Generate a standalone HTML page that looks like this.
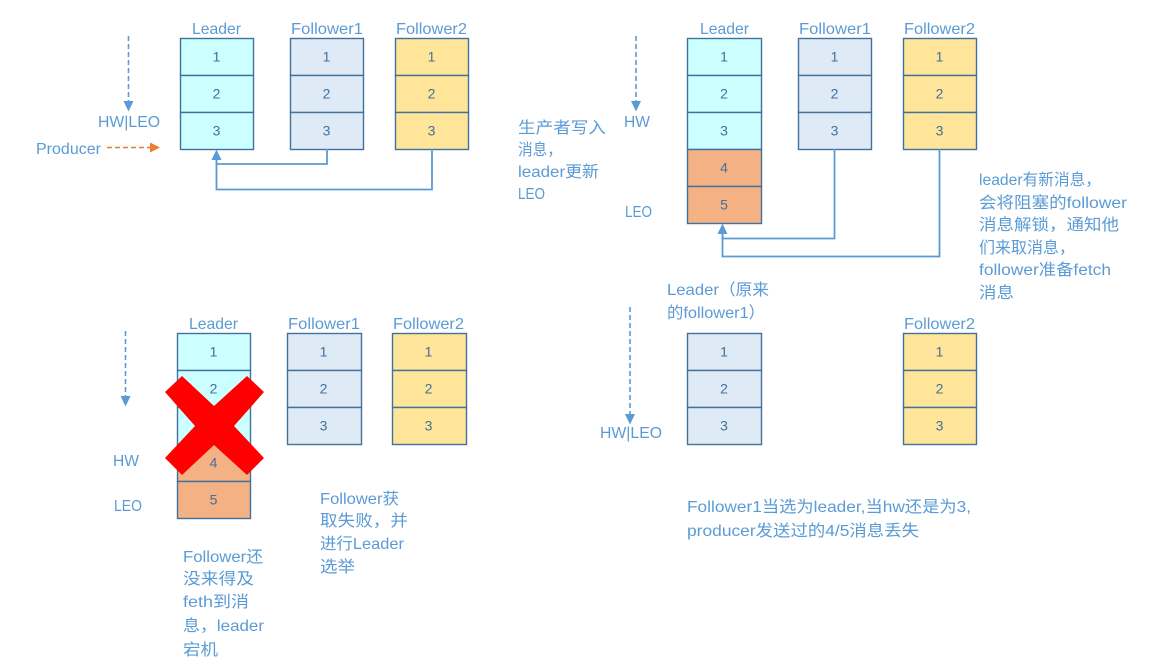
<!DOCTYPE html>
<html>
<head>
<meta charset="utf-8">
<style>
html,body{margin:0;padding:0;background:#fff;width:1164px;height:667px;overflow:hidden}
svg{display:block}
text{font-family:"Liberation Sans","Noto Sans CJK SC",sans-serif;font-size:16px;fill:#5b9bd5}
.n{font-size:14px;fill:#41719c;text-anchor:middle}
.c{fill:#cff;stroke:#41719c;stroke-width:1.4}
.f{fill:#deeaf6;stroke:#41719c;stroke-width:1.4}
.y{fill:#ffe599;stroke:#41719c;stroke-width:1.4}
.o{fill:#f4b183;stroke:#41719c;stroke-width:1.4}
.l{fill:none;stroke:#5b9bd5;stroke-width:1.8}
.d{fill:none;stroke:#5b9bd5;stroke-width:1.6;stroke-dasharray:5 3}
.a{fill:#5b9bd5}
</style>
</head>
<body>
<svg width="1164" height="667" viewBox="0 0 1164 667" xmlns="http://www.w3.org/2000/svg">
<!-- Top-left -->
<text x="192" y="34" textLength="49" lengthAdjust="spacingAndGlyphs">Leader</text>
<text x="291" y="34" textLength="72" lengthAdjust="spacingAndGlyphs">Follower1</text>
<text x="396" y="34" textLength="71" lengthAdjust="spacingAndGlyphs">Follower2</text>
<rect class="c" x="180.5" y="38.5" width="73" height="37"/><rect class="c" x="180.5" y="75.5" width="73" height="37"/><rect class="c" x="180.5" y="112.5" width="73" height="37"/>
<rect class="f" x="290.5" y="38.5" width="73" height="37"/><rect class="f" x="290.5" y="75.5" width="73" height="37"/><rect class="f" x="290.5" y="112.5" width="73" height="37"/>
<rect class="y" x="395.5" y="38.5" width="73" height="37"/><rect class="y" x="395.5" y="75.5" width="73" height="37"/><rect class="y" x="395.5" y="112.5" width="73" height="37"/>
<text class="n" x="216.5" y="61.500">1</text><text class="n" x="216.5" y="98.500">2</text><text class="n" x="216.5" y="135.500">3</text>
<text class="n" x="326.5" y="61.500">1</text><text class="n" x="326.5" y="98.500">2</text><text class="n" x="326.5" y="135.500">3</text>
<text class="n" x="431.5" y="61.500">1</text><text class="n" x="431.5" y="98.500">2</text><text class="n" x="431.5" y="135.500">3</text>
<line class="d" x1="128.5" y1="36" x2="128.5" y2="102"/>
<polygon class="a" points="123.5,101 133.5,101 128.5,111.500"/>
<text x="98" y="127" textLength="62" lengthAdjust="spacingAndGlyphs">HW|LEO</text>
<text x="36" y="154" textLength="65" lengthAdjust="spacingAndGlyphs">Producer</text>
<line x1="107" y1="147.5" x2="151" y2="147.5" stroke="#ed7d31" stroke-width="1.6" stroke-dasharray="5 3"/>
<polygon fill="#ed7d31" points="150,142.500 160,147.5 150,152.500"/>
<path class="l" d="M327 149V164H216.5V158"/>
<path class="l" d="M432 149V189.500H216.500V158"/>
<polygon class="a" points="211.500,160 221.500,160 216.500,149.500"/>

<!-- Top-right -->
<text x="700" y="34" textLength="49" lengthAdjust="spacingAndGlyphs">Leader</text>
<text x="799" y="34" textLength="72" lengthAdjust="spacingAndGlyphs">Follower1</text>
<text x="904" y="34" textLength="71" lengthAdjust="spacingAndGlyphs">Follower2</text>
<rect class="c" x="687.500" y="38.500" width="74" height="37"/><rect class="c" x="687.500" y="75.500" width="74" height="37"/><rect class="c" x="687.500" y="112.500" width="74" height="37"/>
<rect class="o" x="687.500" y="149.500" width="74" height="37"/><rect class="o" x="687.500" y="186.500" width="74" height="37"/>
<rect class="f" x="798.500" y="38.500" width="73" height="37"/><rect class="f" x="798.500" y="75.500" width="73" height="37"/><rect class="f" x="798.500" y="112.500" width="73" height="37"/>
<rect class="y" x="903.500" y="38.500" width="73" height="37"/><rect class="y" x="903.500" y="75.500" width="73" height="37"/><rect class="y" x="903.500" y="112.500" width="73" height="37"/>
<text class="n" x="724" y="61.500">1</text><text class="n" x="724" y="98.500">2</text><text class="n" x="724" y="135.500">3</text><text class="n" x="724" y="172.500">4</text><text class="n" x="724" y="209.500">5</text>
<text class="n" x="834.500" y="61.500">1</text><text class="n" x="834.500" y="98.500">2</text><text class="n" x="834.500" y="135.500">3</text>
<text class="n" x="939.500" y="61.500">1</text><text class="n" x="939.500" y="98.500">2</text><text class="n" x="939.500" y="135.500">3</text>
<line class="d" x1="636" y1="36" x2="636" y2="102"/>
<polygon class="a" points="631,101 641,101 636,111.500"/>
<text x="624" y="127" textLength="26" lengthAdjust="spacingAndGlyphs">HW</text>
<text x="625" y="217" textLength="27" lengthAdjust="spacingAndGlyphs">LEO</text>
<text x="518" y="133" textLength="88" lengthAdjust="spacingAndGlyphs">生产者写入</text>
<text x="518" y="155" textLength="44" lengthAdjust="spacingAndGlyphs">消息，</text>
<text x="518" y="177" textLength="81" lengthAdjust="spacingAndGlyphs">leader更新</text>
<text x="518" y="199" textLength="27" lengthAdjust="spacingAndGlyphs">LEO</text>
<path class="l" d="M834.500 149V238.500H722.500V232"/>
<path class="l" d="M939.500 149V256.500H722.500V232"/>
<polygon class="a" points="717.500,234 727.500,234 722.500,223.500"/>
<text x="979" y="185" textLength="122" lengthAdjust="spacingAndGlyphs">leader有新消息，</text>
<text x="979" y="208" textLength="148" lengthAdjust="spacingAndGlyphs">会将阻塞的follower</text>
<text x="979" y="230" textLength="140" lengthAdjust="spacingAndGlyphs">消息解锁，通知他</text>
<text x="979" y="253" textLength="96" lengthAdjust="spacingAndGlyphs">们来取消息，</text>
<text x="979" y="275" textLength="132" lengthAdjust="spacingAndGlyphs">follower准备fetch</text>
<text x="979" y="298" textLength="35" lengthAdjust="spacingAndGlyphs">消息</text>

<!-- Bottom-left -->
<text x="189" y="329" textLength="49" lengthAdjust="spacingAndGlyphs">Leader</text>
<text x="288" y="329" textLength="72" lengthAdjust="spacingAndGlyphs">Follower1</text>
<text x="393" y="329" textLength="71" lengthAdjust="spacingAndGlyphs">Follower2</text>
<rect class="c" x="177.500" y="333.500" width="73" height="37"/><rect class="c" x="177.500" y="370.500" width="73" height="37"/><rect class="c" x="177.500" y="407.500" width="73" height="37"/>
<rect class="o" x="177.500" y="444.500" width="73" height="37"/><rect class="o" x="177.500" y="481.500" width="73" height="37"/>
<rect class="f" x="287.500" y="333.500" width="74" height="37"/><rect class="f" x="287.500" y="370.500" width="74" height="37"/><rect class="f" x="287.500" y="407.500" width="74" height="37"/>
<rect class="y" x="392.500" y="333.500" width="74" height="37"/><rect class="y" x="392.500" y="370.500" width="74" height="37"/><rect class="y" x="392.500" y="407.500" width="74" height="37"/>
<text class="n" x="213.500" y="356.500">1</text><text class="n" x="213.500" y="393.500">2</text><text class="n" x="213.500" y="467.500">4</text><text class="n" x="213.500" y="504.500">5</text>
<text class="n" x="323.500" y="356.500">1</text><text class="n" x="323.500" y="393.500">2</text><text class="n" x="323.500" y="430.500">3</text>
<text class="n" x="428.500" y="356.500">1</text><text class="n" x="428.500" y="393.500">2</text><text class="n" x="428.500" y="430.500">3</text>
<polygon fill="#f00" points="182,376 214,406 247,376 264,392 234,426 264,458 247,475 214,445 182,475 165,458 195,426 165,392"/>
<line class="d" x1="125.500" y1="331" x2="125.500" y2="397"/>
<polygon class="a" points="120.500,396 130.500,396 125.500,406.500"/>
<text x="113" y="466" textLength="26" lengthAdjust="spacingAndGlyphs">HW</text>
<text x="114" y="511" textLength="28" lengthAdjust="spacingAndGlyphs">LEO</text>
<text x="183" y="562" textLength="80" lengthAdjust="spacingAndGlyphs">Follower还</text>
<text x="183" y="584" textLength="71" lengthAdjust="spacingAndGlyphs">没来得及</text>
<text x="183" y="607" textLength="66" lengthAdjust="spacingAndGlyphs">feth到消</text>
<text x="183" y="631" textLength="81" lengthAdjust="spacingAndGlyphs">息，leader</text>
<text x="183" y="655" textLength="35" lengthAdjust="spacingAndGlyphs">宕机</text>
<text x="320" y="504" textLength="79" lengthAdjust="spacingAndGlyphs">Follower获</text>
<text x="320" y="526" textLength="88" lengthAdjust="spacingAndGlyphs">取失败，并</text>
<text x="320" y="549" textLength="84" lengthAdjust="spacingAndGlyphs">进行Leader</text>
<text x="320" y="572" textLength="35" lengthAdjust="spacingAndGlyphs">选举</text>

<!-- Bottom-right -->
<text x="667" y="295" textLength="102" lengthAdjust="spacingAndGlyphs">Leader（原来</text>
<text x="667" y="318" textLength="98" lengthAdjust="spacingAndGlyphs">的follower1）</text>
<text x="904" y="329" textLength="71" lengthAdjust="spacingAndGlyphs">Follower2</text>
<rect class="f" x="687.500" y="333.500" width="74" height="37"/><rect class="f" x="687.500" y="370.500" width="74" height="37"/><rect class="f" x="687.500" y="407.500" width="74" height="37"/>
<rect class="y" x="903.500" y="333.500" width="73" height="37"/><rect class="y" x="903.500" y="370.500" width="73" height="37"/><rect class="y" x="903.500" y="407.500" width="73" height="37"/>
<text class="n" x="724" y="356.500">1</text><text class="n" x="724" y="393.500">2</text><text class="n" x="724" y="430.500">3</text>
<text class="n" x="939.500" y="356.500">1</text><text class="n" x="939.500" y="393.500">2</text><text class="n" x="939.500" y="430.500">3</text>
<line class="d" x1="630" y1="307" x2="630" y2="415"/>
<polygon class="a" points="625,414 635,414 630,424.500"/>
<text x="600" y="438" textLength="62" lengthAdjust="spacingAndGlyphs">HW|LEO</text>
<text x="687" y="512" textLength="284" lengthAdjust="spacingAndGlyphs">Follower1当选为leader,当hw还是为3,</text>
<text x="687" y="536" textLength="232" lengthAdjust="spacingAndGlyphs">producer发送过的4/5消息丢失</text>
</svg>
</body>
</html>
